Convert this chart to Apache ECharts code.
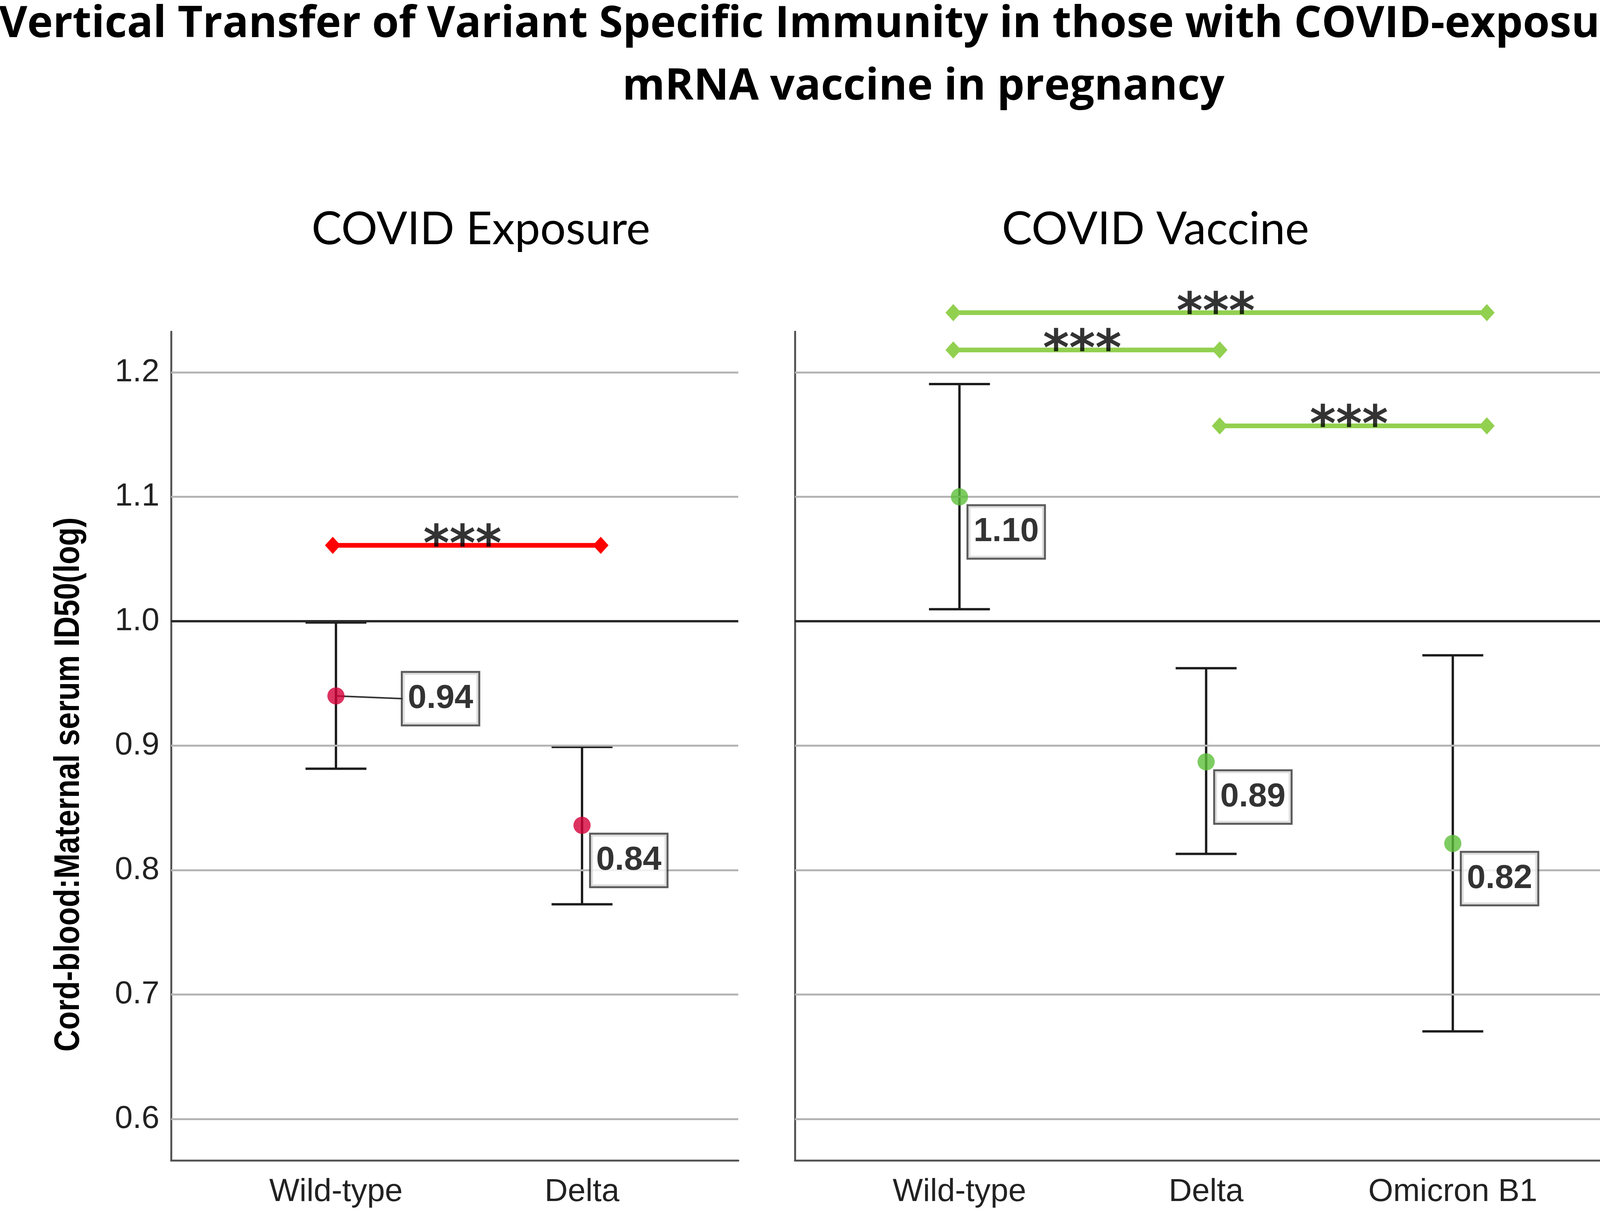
<!DOCTYPE html>
<html>
<head>
<meta charset="utf-8">
<script src="https://cdn.jsdelivr.net/npm/echarts@6/dist/echarts.min.js"></script>
<style>
  html, body { margin: 0; padding: 0; background: #fff; }
  #chart { width: 4723px; height: 3120px; }
</style>
</head>
<body>
<div id="chart"></div>
<script>
// categories
const categoriesExposure = ['Wild-type', 'Delta'];
const categoriesVaccine = ['Wild-type', 'Delta', 'Omicron B1'];

// means and 95% CI (cord-blood : maternal ratio, log)
const meanExposure = [0.94, 0.836];
const lowerExposure = [0.8815, 0.7725];
const upperExposure = [0.999, 0.899];

const meanVaccine = [1.10, 0.887, 0.8214];
const lowerVaccine = [1.0097, 0.813, 0.6704];
const upperVaccine = [1.1906, 0.9623, 0.9726];

// significance brackets (x in category units, y in axis units)
const sigExposureFrom = [-0.013];
const sigExposureTo = [1.076];
const sigExposureY = [1.061];
const sigVaccineFrom = [-0.025, -0.025, 1.055];
const sigVaccineTo = [2.138, 1.055, 2.138];
const sigVaccineY = [1.248, 1.218, 1.157];
const sigText = '***';

// axis
const yTicks = [0.6, 0.7, 0.8, 0.9, 1.0, 1.1, 1.2];
const yMin = 0.5667;
const yMax = 1.2327;

const chart = echarts.init(document.getElementById('chart'), null, { renderer: 'canvas', devicePixelRatio: 1 });

const RED_LINE = '#ff0000';
const RED_DOT = '#d4003a';
const GREEN_LINE = '#92d050';
const GREEN_DOT = '#5cbf3a';
const TICK_FONT = 'Liberation Sans';

function xAxisFor(gridIndex, cats, min, max) {
  return {
    type: 'value', gridIndex: gridIndex, min: min, max: max,
    axisLine: { show: true, onZero: false, lineStyle: { color: '#555', width: 5 } },
    axisTick: { show: false },
    splitLine: { show: false },
    axisLabel: {
      customValues: cats.map((c, i) => i),
      formatter: v => cats[Math.round(v)] || '',
      fontFamily: TICK_FONT, fontSize: 82, color: '#222', margin: 40
    }
  };
}

function yAxisFor(gridIndex, showLabels) {
  return {
    type: 'value', gridIndex: gridIndex, min: yMin, max: yMax,
    axisLine: { show: true, onZero: false, lineStyle: { color: '#555', width: 5 } },
    axisTick: { show: false, customValues: yTicks },
    splitLine: { show: false },
    axisLabel: {
      show: showLabels, customValues: yTicks,
      formatter: v => v.toFixed(1),
      fontFamily: TICK_FONT, fontSize: 82, color: '#222', margin: 30
    }
  };
}

function gridLines(idx) {
  return {
    type: 'line', xAxisIndex: idx, yAxisIndex: idx, data: [], z: 1, silent: true,
    markLine: {
      silent: true, animation: false, symbol: ['none', 'none'],
      label: { show: false },
      data: yTicks.map(v => ({
        yAxis: v,
        lineStyle: v === 1.0 ? { color: '#2a2a2a', width: 6, type: 'solid' } : { color: '#b4b4b4', width: 5, type: 'solid' }
      }))
    }
  };
}

function renderErrorBar(params, api) {
  const x = api.value(0);
  const lo = api.coord([x, api.value(1)]);
  const hi = api.coord([x, api.value(2)]);
  const half = 78;
  const style = { stroke: '#1c1c1c', lineWidth: 6 };
  return {
    type: 'group',
    children: [
      { type: 'line', shape: { x1: lo[0], y1: lo[1], x2: hi[0], y2: hi[1] }, style: style },
      { type: 'line', shape: { x1: lo[0] - half, y1: lo[1], x2: lo[0] + half, y2: lo[1] }, style: style },
      { type: 'line', shape: { x1: hi[0] - half, y1: hi[1], x2: hi[0] + half, y2: hi[1] }, style: style }
    ]
  };
}

function errorBars(idx, lower, upper) {
  return {
    type: 'custom', xAxisIndex: idx, yAxisIndex: idx, z: 3, silent: true,
    renderItem: renderErrorBar,
    data: lower.map((l, i) => [i, l, upper[i]])
  };
}

const labelBox = {
  show: true,
  fontFamily: TICK_FONT, fontWeight: 'bold', fontSize: 86, color: '#000',
  lineHeight: 92,
  backgroundColor: '#fff', borderColor: '#333', borderWidth: 5,
  padding: [20, 13, 20, 13],
  position: [45, 46]
};

function dots(idx, means, color, placements) {
  return {
    type: 'scatter', xAxisIndex: idx, yAxisIndex: idx, z: 6, silent: true,
    symbol: 'circle', symbolSize: 44,
    itemStyle: { color: color },
    label: Object.assign({ formatter: p => p.value[1].toFixed(2) }, labelBox),
    data: means.map((m, i) => {
      const item = { value: [i, m] };
      if (placements[i]) item.label = { position: placements[i] };
      return item;
    })
  };
}

// leader line from the exposure wild-type dot to its box
const leader = {
  type: 'custom', xAxisIndex: 0, yAxisIndex: 0, z: 4, silent: true,
  renderItem: (params, api) => {
    const p = api.coord([api.value(0), api.value(1)]);
    return { type: 'line', shape: { x1: p[0], y1: p[1], x2: p[0] + 172, y2: p[1] + 7 }, style: { stroke: '#333', lineWidth: 4 } };
  },
  data: [[0, meanExposure[0]]]
};

function brackets(idx, from, to, ys, color) {
  return from.map((f, i) => ({
    type: 'line', xAxisIndex: idx, yAxisIndex: idx, z: 5, silent: true, clip: false,
    symbol: 'diamond', symbolSize: [40, 44], showAllSymbol: true,
    lineStyle: { color: color, width: 12 },
    itemStyle: { color: color },
    data: [[f, ys[i]], [to[i], ys[i]]]
  }));
}

function stars(idx, from, to, ys) {
  return {
    type: 'scatter', xAxisIndex: idx, yAxisIndex: idx, z: 7, silent: true, clip: false,
    symbolSize: 1, itemStyle: { color: 'rgba(0,0,0,0)' },
    label: {
      show: true, position: 'inside', formatter: sigText, offset: [-11, 6],
      fontFamily: 'DejaVu Sans', fontWeight: 'bold', fontSize: 128, color: '#000'
    },
    data: from.map((f, i) => [(f + to[i]) / 2, ys[i]])
  };
}

const option = {
  backgroundColor: '#fff',
  animation: false,
  grid: [
    { left: 438, top: 849, width: 1452, height: 2121 },
    { left: 2035, top: 849, width: 2106, height: 2121 }
  ],
  xAxis: [
    xAxisFor(0, categoriesExposure, -0.67, 1.635),
    xAxisFor(1, categoriesVaccine, -0.667, 2.668)
  ],
  yAxis: [yAxisFor(0, true), yAxisFor(1, false)],
  graphic: [
    { type: 'text', x: 2368, y: 63, style: { text: 'Vertical Transfer of Variant Specific Immunity in those with COVID-exposure or COVID', textAlign: 'center', textVerticalAlign: 'middle', fontFamily: 'Open Sans', fontWeight: 'bold', fontSize: 111, fill: '#000' } },
    { type: 'text', x: 2364, y: 223, style: { text: 'mRNA vaccine in pregnancy', textAlign: 'center', textVerticalAlign: 'middle', fontFamily: 'Open Sans', fontWeight: 'bold', fontSize: 111, fill: '#000' } },
    { type: 'text', x: 1231, y: 588, style: { text: 'COVID Exposure', textAlign: 'center', textVerticalAlign: 'middle', fontFamily: 'Lato', fontSize: 116, fill: '#000' } },
    { type: 'text', x: 2958, y: 588, style: { text: 'COVID Vaccine', textAlign: 'center', textVerticalAlign: 'middle', fontFamily: 'Lato', fontSize: 116, fill: '#000' } },
    { type: 'text', x: 177, y: 2008, rotation: Math.PI / 2, scaleX: 0.86, style: { text: 'Cord-blood:Maternal serum ID50(log)', textAlign: 'center', textVerticalAlign: 'middle', fontFamily: 'Liberation Sans', fontWeight: 'bold', fontSize: 90, fill: '#000' } }
  ],
  series: [
    gridLines(0),
    gridLines(1),
    errorBars(0, lowerExposure, upperExposure),
    errorBars(1, lowerVaccine, upperVaccine),
    leader,
    ...brackets(0, sigExposureFrom, sigExposureTo, sigExposureY, RED_LINE),
    ...brackets(1, sigVaccineFrom, sigVaccineTo, sigVaccineY, GREEN_LINE),
    stars(0, sigExposureFrom, sigExposureTo, sigExposureY),
    stars(1, sigVaccineFrom, sigVaccineTo, sigVaccineY),
    dots(0, meanExposure, RED_DOT, [[193, -37], null]),
    dots(1, meanVaccine, GREEN_DOT, [])
  ]
};

chart.setOption(option);
</script>
</body>
</html>
